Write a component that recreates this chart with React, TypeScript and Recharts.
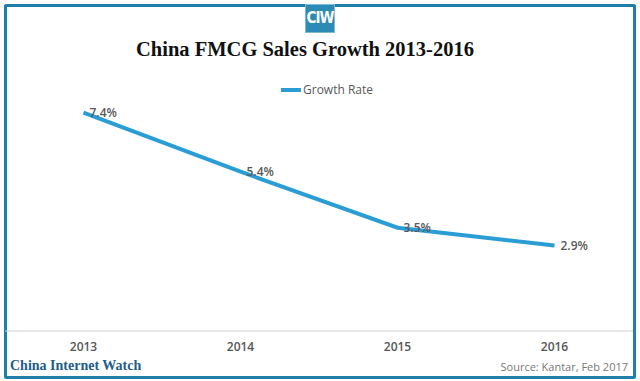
import React from "react";
import { LineChart, Line, XAxis, YAxis, LabelList } from "recharts";

const years = ["2013", "2014", "2015", "2016"];
const growthRate = [7.4, 5.4, 3.5, 2.9];
const seriesName = "Growth Rate";
const title = "China FMCG Sales Growth 2013-2016";
const footerLeft = "China Internet Watch";
const footerRight = "Source: Kantar, Feb 2017";

const data = years.map((y, i) => ({ year: y, value: growthRate[i] }));

const LINE = "#2a9dd5";
const BORDER = "#1f80aa";
const GREY = "#595959";
const SANS = "'Open Sans', 'DejaVu Sans', sans-serif";
const SERIF = "'Liberation Serif', 'DejaVu Serif', serif";

export default function App() {
  return (
    <div style={{ position: "absolute", left: 0, top: 0, width: 640, height: 381, background: "#fff", overflow: "hidden" }}>
      <div style={{ position: "absolute", left: 4, top: 4, width: 626, height: 369, border: `3px solid ${BORDER}`, borderRadius: 2 }} />
      <div style={{ position: "absolute", left: 305, top: 4, width: 30, height: 29, background: "#2c8bb5", border: "1px solid #7fb8d3", boxSizing: "border-box", color: "#fff", fontFamily: "'DejaVu Sans Condensed', 'DejaVu Sans', sans-serif", fontWeight: 700, fontSize: 15, lineHeight: "27px", textAlign: "center", letterSpacing: -1 }}>CIW</div>
      <div style={{ position: "absolute", left: 0, top: 38, width: 610, textAlign: "center", fontFamily: SERIF, fontWeight: 700, fontSize: 20.5, color: "#111" }}>{title}</div>
      <div style={{ position: "absolute", left: 281, top: 81, display: "flex", alignItems: "center", fontFamily: SANS, fontSize: 12, color: GREY }}>
        <span style={{ display: "inline-block", width: 20, height: 4, background: LINE, marginRight: 2 }} />
        {seriesName}
      </div>
      <div style={{ position: "absolute", left: 10, top: 358, fontFamily: SERIF, fontWeight: 700, fontSize: 14, color: "#1e5d8c" }}>{footerLeft}</div>
      <div style={{ position: "absolute", right: 12, top: 359, fontFamily: SANS, fontSize: 11, color: "#777" }}>{footerRight}</div>
      <div style={{ position: "absolute", left: 0, top: 0 }}>
        <LineChart width={640} height={381} data={data} margin={{ top: 95, right: 7, bottom: 20, left: 5 }}>
          <XAxis
            dataKey="year"
            scale="band"
            height={30}
            tickLine={false}
            tickMargin={5}
            axisLine={{ stroke: "#d0d0d0", strokeWidth: 1 }}
            tick={{ fill: "#555", fontSize: 12, fontWeight: 600, fontFamily: SANS }}
          />
          <YAxis hide domain={[0, 8]} />
          <Line type="linear" dataKey="value" stroke={LINE} strokeWidth={4} dot={false} isAnimationActive={false}>
            <LabelList dataKey="value" position="right" offset={6} formatter={(v: number) => `${v}%`} style={{ fill: GREY, fontSize: 12, fontWeight: 600, fontFamily: SANS }} />
          </Line>
        </LineChart>
      </div>
    </div>
  );
}
